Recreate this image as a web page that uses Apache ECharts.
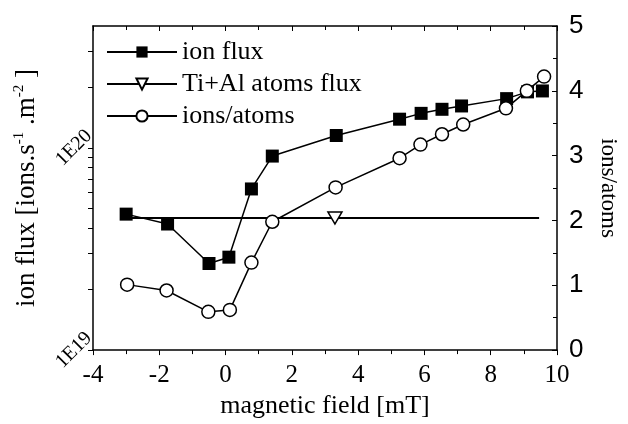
<!DOCTYPE html>
<html>
<head>
<meta charset="utf-8">
<style>
  html, body { margin: 0; padding: 0; background: #fff; }
  #chart { width: 628px; height: 424px; }
</style>
<script src="https://cdn.jsdelivr.net/npm/echarts@6/dist/echarts.min.js"></script>
</head>
<body>
<div id="chart"></div>
<script>
const fieldIon = [-3, -1.75, -0.5, 0.1, 0.78, 1.41, 3.34, 5.25, 5.9, 6.53, 7.12, 8.48, 9.11, 9.56];
const ionFlux = [4.7e19, 4.2e19, 2.68e19, 2.88e19, 6.26e19, 9.1e19, 1.15e20, 1.385e20, 1.48e20, 1.55e20, 1.61e20, 1.75e20, 1.89e20, 1.91e20];

const fieldAtoms = [-3, 3.3, 9.46];
const atomsFlux = [4.5e19, 4.5e19, 4.5e19];
const atomsMarker = [false, true, false];

const fieldRatio = [-2.97, -1.78, -0.52, 0.13, 0.78, 1.41, 3.32, 5.25, 5.88, 6.53, 7.17, 8.46, 9.09, 9.61];
const ratio = [1.01, 0.92, 0.59, 0.62, 1.35, 1.98, 2.51, 2.96, 3.17, 3.33, 3.48, 3.73, 4.0, 4.22];

const fluxTicks = [1e19, 2e19, 3e19, 4e19, 5e19, 6e19, 7e19, 8e19, 9e19, 1e20, 2e20, 3e20, 4e20];
const fluxLabels = [1e19, 1e20];

const serif = "'Liberation Serif', 'Times New Roman', serif";
const sans = "'Liberation Sans', Arial, sans-serif";

const chart = echarts.init(document.getElementById("chart"), null, { renderer: "canvas" });

const zip = (xs, ys) => xs.map((x, i) => [x, ys[i]]);

chart.setOption({
  animation: false,
  backgroundColor: "#fff",
  grid: { left: 93, right: 70, top: 26, bottom: 69 },
  legend: {
    orient: "vertical",
    left: 101,
    top: 34,
    itemWidth: 70,
    itemHeight: 14,
    itemGap: 6,
    textStyle: { fontFamily: serif, fontSize: 26, color: "#000", lineHeight: 22 },
    data: ["ion flux", "Ti+Al atoms flux", "ions/atoms"],
  },
  xAxis: [
    {
      type: "value",
      min: -4,
      max: 10,
      interval: 2,
      name: "magnetic field [mT]",
      nameLocation: "middle",
      nameGap: 40,
      nameTextStyle: { fontFamily: serif, fontSize: 26, color: "#000" },
      axisLine: { onZero: false, lineStyle: { color: "#000", width: 1.5 } },
      axisTick: { inside: false, length: 5, lineStyle: { color: "#000" } },
      minorTick: { show: true, splitNumber: 2, length: 4, lineStyle: { color: "#000" } },
      axisLabel: { fontFamily: serif, fontSize: 25, color: "#000", margin: 13 },
      splitLine: { show: false },
    },
    {
      type: "value",
      position: "top",
      min: -4,
      max: 10,
      interval: 2,
      axisLine: { onZero: false, lineStyle: { color: "#000", width: 1.5 } },
      axisTick: { inside: true, length: 5, lineStyle: { color: "#000" } },
      minorTick: { show: true, splitNumber: 2, length: 4, lineStyle: { color: "#000" } },
      axisLabel: { show: false },
      splitLine: { show: false },
    },
  ],
  yAxis: [
    {
      type: "log",
      logBase: 10,
      min: 1e19,
      max: 4e20,
      position: "left",
      name: "ion flux [ions.s{sup|-1} .m{sup|-2} ]",
      nameLocation: "middle",
      nameGap: 39,
      nameRotate: 90,
      nameTextStyle: {
        fontFamily: serif,
        fontSize: 27,
        color: "#000",
        lineHeight: 30,
        rich: { sup: { fontFamily: serif, fontSize: 15, lineHeight: 15, verticalAlign: "top", color: "#000" } },
      },
      axisLine: { show: true, onZero: false, lineStyle: { color: "#000", width: 1.5 } },
      axisTick: { inside: false, length: 5, customValues: fluxTicks, lineStyle: { color: "#000" } },
      axisLabel: {
        customValues: fluxLabels,
        rotate: 45,
        align: "center",
        verticalAlign: "middle",
        margin: 19,
        fontFamily: serif,
        fontSize: 20,
        color: "#000",
        formatter: (v) => "1E" + Math.round(Math.log10(v)),
      },
      splitLine: { show: false },
    },
    {
      type: "value",
      position: "right",
      min: 0,
      max: 5,
      interval: 1,
      name: "ions/atoms",
      nameLocation: "middle",
      nameGap: 40,
      nameRotate: -90,
      nameTextStyle: { fontFamily: serif, fontSize: 23, color: "#000" },
      axisLine: { show: true, onZero: false, lineStyle: { color: "#000", width: 1.5 } },
      axisTick: { inside: true, length: 5, lineStyle: { color: "#000" } },
      minorTick: { show: true, splitNumber: 2, length: 4, lineStyle: { color: "#000" } },
      axisLabel: { fontFamily: sans, fontSize: 26, color: "#000", margin: 12 },
      splitLine: { show: false },
    },
  ],
  series: [
    {
      name: "ion flux",
      type: "line",
      xAxisIndex: 0,
      yAxisIndex: 0,
      data: zip(fieldIon, ionFlux),
      symbol: "rect",
      symbolSize: 13,
      itemStyle: { color: "#000" },
      lineStyle: { color: "#000", width: 1.5 },
    },
    {
      name: "Ti+Al atoms flux",
      type: "line",
      xAxisIndex: 0,
      yAxisIndex: 0,
      data: fieldAtoms.map((x, i) => ({
        value: [x, atomsFlux[i]],
        symbol: atomsMarker[i] ? "triangle" : "none",
      })),
      symbol: "triangle",
      symbolRotate: 180,
      symbolSize: [14, 12],
      itemStyle: { color: "#fff", borderColor: "#000", borderWidth: 1.5 },
      lineStyle: { color: "#000", width: 2 },
    },
    {
      name: "ions/atoms",
      type: "line",
      xAxisIndex: 0,
      yAxisIndex: 1,
      data: zip(fieldRatio, ratio),
      symbol: "circle",
      symbolSize: 13,
      itemStyle: { color: "#fff", borderColor: "#000", borderWidth: 1.5 },
      lineStyle: { color: "#000", width: 1.5 },
    },
  ],
});
</script>
</body>
</html>
